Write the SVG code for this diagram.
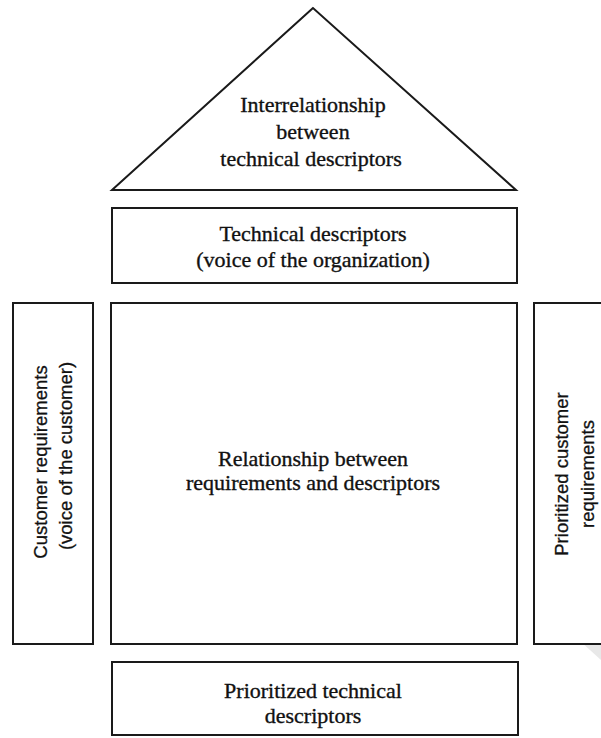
<svg xmlns="http://www.w3.org/2000/svg" width="601" height="738" viewBox="0 0 601 738">
<style>
.box{fill:#fff;stroke:#1a1a1a;stroke-width:2}
.t{font-family:"Liberation Serif","Times New Roman",serif;font-size:22px;fill:#111;text-anchor:middle;stroke:#111;stroke-width:0.35}
.s{font-family:"Liberation Sans",Arial,sans-serif;font-size:18.5px;fill:#111;text-anchor:middle;stroke:#111;stroke-width:0.3}
</style>
<rect width="601" height="738" fill="#fff"/>
<polygon points="548,612 566,606 601,640 601,660" fill="#e8e8e8"/>
<g id="roof">
<polygon class="box" points="313,8 112,190 516,190"/>
<text class="t" x="313" y="112">Interrelationship</text>
<text class="t" x="313" y="139">between</text>
<text class="t" x="311" y="166">technical descriptors</text>
</g>
<g id="technical-descriptors">
<rect class="box" x="112" y="208" width="405" height="75"/>
<text class="t" x="313" y="241">Technical descriptors</text>
<text class="t" x="313" y="267">(voice of the organization)</text>
</g>
<g id="customer-requirements">
<rect class="box" x="13" y="303" width="80" height="341"/>
<text class="s" transform="translate(47,462) rotate(-90)">Customer requirements</text>
<text class="s" transform="translate(72,456) rotate(-90)">(voice of the customer)</text>
</g>
<g id="relationship">
<rect class="box" x="111" y="303" width="406" height="341"/>
<text class="t" x="313" y="466">Relationship between</text>
<text class="t" x="313" y="490">requirements and descriptors</text>
</g>
<g id="prioritized-customer">
<rect class="box" x="534" y="303" width="90" height="341"/>
<text class="s" transform="translate(568,474) rotate(-90)">Prioritized customer</text>
<text class="s" transform="translate(594,474) rotate(-90)">requirements</text>
</g>
<g id="prioritized-technical">
<rect class="box" x="112" y="662" width="406" height="73"/>
<text class="t" x="313" y="698">Prioritized technical</text>
<text class="t" x="313" y="723">descriptors</text>
</g>
<g id="connectors"></g>
</svg>
